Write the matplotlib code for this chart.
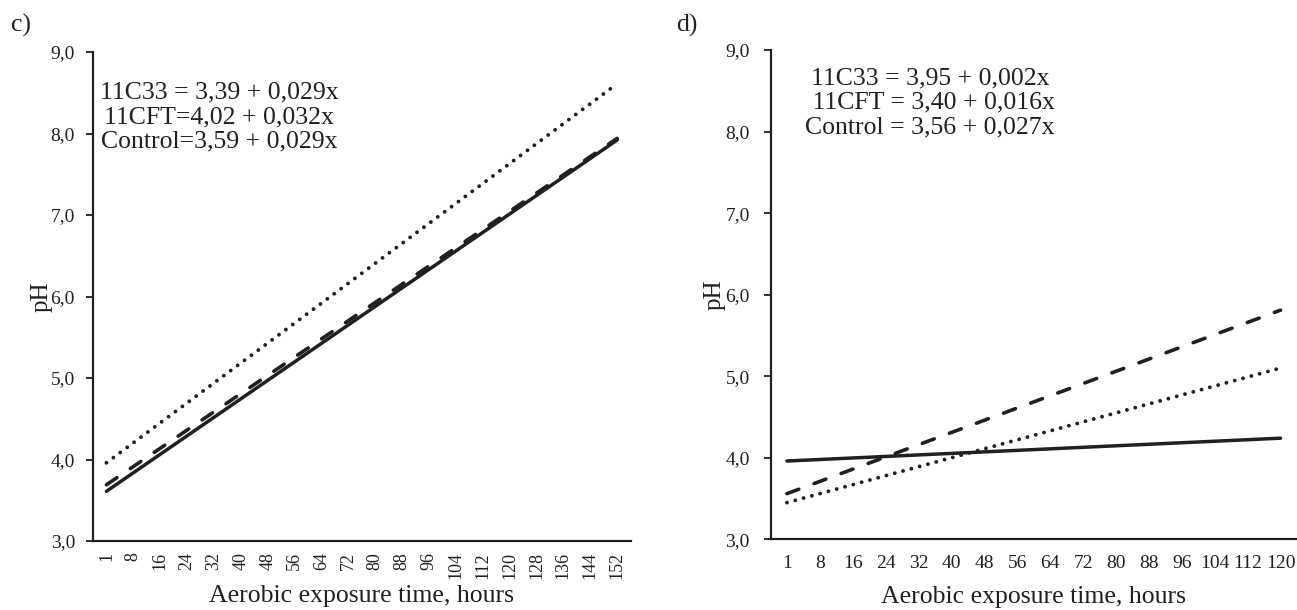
import matplotlib
matplotlib.use('Agg')
import matplotlib.pyplot as plt

plt.rcParams['font.family'] = ['Liberation Serif', 'DejaVu Serif']

# categorias do eixo x (tempo de exposição aeróbica, horas)
horas_c = ['1', '8', '16', '24', '32', '40', '48', '56', '64', '72',
           '80', '88', '96', '104', '112', '120', '128', '136', '144', '152']
horas_d = ['1', '8', '16', '24', '32', '40', '48', '56', '64', '72',
           '80', '88', '96', '104', '112', '120']

# retas ajustadas: valor de pH na primeira e na ultima categoria
c_11c33 = [3.61, 7.92]
c_11cft = [3.96, 8.61]
c_control = [3.69, 7.94]

d_11c33 = [3.96, 4.24]
d_11cft = [3.45, 5.10]
d_control = [3.56, 5.81]

eq_c = ['11C33 = 3,39 + 0,029x', '11CFT=4,02 + 0,032x', 'Control=3,59 + 0,029x']
eq_d = ['11C33 = 3,95 + 0,002x', ' 11CFT = 3,40 + 0,016x', 'Control = 3,56 + 0,027x']

y_ticks = [3.0, 4.0, 5.0, 6.0, 7.0, 8.0, 9.0]

cor = '#231f20'

fig = plt.figure(figsize=(12.97, 6.10), dpi=100)
ax1 = fig.add_axes([93 / 1297, 69 / 610, 537.6 / 1297, 489 / 610])
ax2 = fig.add_axes([770.5 / 1297, 70.7 / 610, 526.5 / 1297, 489.3 / 610])


def estilo(ax, horas, rot, fs_x, pad_x, pad_y):
    ax.set_xlim(-0.5, len(horas) - 0.5)
    ax.set_ylim(3, 9)
    ax.set_yticks(y_ticks)
    ax.set_yticklabels([f'{v:.1f}'.replace('.', ',') for v in y_ticks], fontsize=14, color=cor)
    ax.set_xticks(range(len(horas)))
    ax.set_xticklabels(horas, rotation=rot, fontsize=fs_x, color=cor)
    ax.tick_params(axis='x', length=0, pad=pad_x)
    ax.tick_params(axis='y', length=5, width=1.3, color=cor, pad=pad_y)
    for s in ['top', 'right']:
        ax.spines[s].set_visible(False)
    for s in ['left', 'bottom']:
        ax.spines[s].set_linewidth(1.6)
        ax.spines[s].set_color(cor)


def retas(ax, horas, a, b, c):
    x = [0, len(horas) - 1]
    ax.plot(x, a, color=cor, lw=2.5, solid_capstyle='round')
    ax.plot(x, c, color=cor, lw=2.6, dashes=(3.5, 4.5), dash_capstyle='round')
    ax.plot(x, b, color=cor, lw=2.8, dashes=(0.01, 2.2), dash_capstyle='round')


# painel c)
retas(ax1, horas_c, c_11c33, c_11cft, c_control)
estilo(ax1, horas_c, 90, 13, 8, 8)
ax1.text(0.235, 0.867, '\n'.join(eq_c), transform=ax1.transAxes, ha='center', va='center',
         fontsize=18.5, linespacing=1.15, color=cor)
ax1.set_ylabel('pH', fontsize=18, color=cor, va='center')
ax1.yaxis.set_label_coords(-0.095, 0.5)
ax1.set_xlabel('Aerobic exposure time, hours', fontsize=18.5, color=cor, va='center')
ax1.xaxis.set_label_coords(0.5, -0.112)

# painel d)
retas(ax2, horas_d, d_11c33, d_11cft, d_control)
estilo(ax2, horas_d, 0, 14, 11, 10)
ax2.text(0.303, 0.892, '\n'.join(eq_d), transform=ax2.transAxes, ha='center', va='center',
         fontsize=18.5, linespacing=1.15, color=cor)
ax2.set_ylabel('pH', fontsize=18, color=cor, va='center')
ax2.yaxis.set_label_coords(-0.1054, 0.5)
ax2.set_xlabel('Aerobic exposure time, hours', fontsize=18.5, color=cor, va='center')
ax2.xaxis.set_label_coords(0.5, -0.118)

fig.text(21 / 1297, 1 - 25 / 610, 'c)', fontsize=18.5, color=cor, ha='center', va='center')
fig.text(687 / 1297, 1 - 25 / 610, 'd)', fontsize=18.5, color=cor, ha='center', va='center')

fig.savefig('out.png', dpi=100)
